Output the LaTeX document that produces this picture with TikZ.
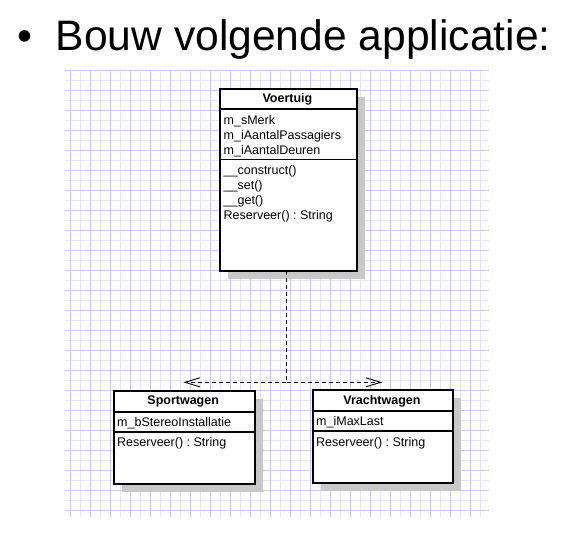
\documentclass[tikz,border=0pt]{standalone}
\usepackage{fontspec}
\setmainfont{Liberation Sans}
\usetikzlibrary{arrows.meta,shadows}
\definecolor{gridlight}{HTML}{E6E6FA}
\definecolor{griddark}{HTML}{C8C8FF}
\definecolor{shadowgray}{HTML}{C8C8C8}
\tikzset{
  classbox/.style={draw=black, line width=2pt, fill=white, anchor=north west, inner sep=0pt,
    drop shadow={shadow xshift=8pt, shadow yshift=-8pt, fill=shadowgray, opacity=1}},
  sep/.style={draw=black, line width=1.6pt},
  member/.style={anchor=base west, inner sep=0pt, font=\fontsize{12.5}{15}\selectfont},
  ctitle/.style={anchor=base, inner sep=0pt, font=\fontsize{12.5}{15}\selectfont\bfseries},
  realize/.style={draw=black, line width=0.9pt, dash pattern=on 4pt off 3pt,
    -{Straight Barb[length=15pt,width=9pt,line width=0.9pt]}},
}
\frenchspacing
\begin{document}
\begin{tikzpicture}[x=1pt,y=-1pt]
\useasboundingbox (0,0) rectangle (562,542);
% title
\node[anchor=base west, inner sep=0pt, font=\fontsize{42.6}{50}\selectfont] (bullet) at (17,50) {•};
\node[anchor=base west, inner sep=0pt, font=\fontsize{42.6}{50}\selectfont] (title) at (55.5,50) {Bouw volgende applicatie:};
% grid
\foreach \i in {0,...,41} {
  \pgfmathparse{int(mod(\i,2))}
  \ifnum\pgfmathresult=1
    \draw[gridlight, line width=1pt] ({70.7+10*\i},70) -- ({70.7+10*\i},516.7);
  \fi
}
\foreach \j in {0,...,44} {
  \pgfmathparse{int(mod(\j,2))}
  \ifnum\pgfmathresult=1
    \draw[gridlight, line width=1pt] (65,{70+10*\j}) -- (489,{70+10*\j});
  \fi
}
\foreach \i in {0,2,...,40} {
  \draw[griddark, line width=1pt] ({70.7+10*\i},70) -- ({70.7+10*\i},516.7);
}
\foreach \j in {0,2,...,44} {
  \draw[griddark, line width=1pt] (65,{70+10*\j}) -- (489,{70+10*\j});
}
% Voertuig
\node[classbox, minimum width=136.7pt, minimum height=182.3pt] (voertuig) at (219,87.7) {};
\draw[sep] (voertuig.west |- 0,108.7) -- (voertuig.east |- 0,108.7);
\draw[sep] (voertuig.west |- 0,159.3) -- (voertuig.east |- 0,159.3);
\node[ctitle] (vt) at (287.4,102.5) {Voertuig};
\node[member] (va1) at (223.5,124.5) {m\_sMerk};
\node[member] (va2) at (223.5,139) {m\_iAantalPassagiers};
\node[member] (va3) at (223.5,154) {m\_iAantalDeuren};
\node[member] (vm1) at (223.5,174.5) {\_\_construct()};
\node[member] (vm2) at (223.5,189.5) {\_\_set()};
\node[member] (vm3) at (223.5,204.5) {\_\_get()};
\node[member] (vm4) at (223.5,219.5) {Reserveer() : String};
% Sportwagen
\node[classbox, minimum width=141pt, minimum height=92.7pt] (sport) at (112.7,390.3) {};
\draw[sep] (sport.west |- 0,411.7) -- (sport.east |- 0,411.7);
\draw[sep] (sport.west |- 0,432) -- (sport.east |- 0,432);
\node[ctitle] (st) at (183.2,404.5) {Sportwagen};
\node[member] (sa1) at (117,426.5) {m\_bStereoInstallatie};
\node[member] (sm1) at (117,446) {Reserveer() : String};
% Vrachtwagen
\node[classbox, minimum width=140.6pt, minimum height=93pt] (vracht) at (311.7,389) {};
\draw[sep] (vracht.west |- 0,411) -- (vracht.east |- 0,411);
\draw[sep] (vracht.west |- 0,431) -- (vracht.east |- 0,431);
\node[ctitle] (rt) at (382,404) {Vrachtwagen};
\node[member] (ra1) at (316,425.5) {m\_iMaxLast};
\node[member] (rm1) at (316,446) {Reserveer() : String};
% realizations
\coordinate (down) at (286.3,271);
\coordinate (lefttip) at (183.3,382.3);
\coordinate (righttip) at (382.3,382.3);
\draw[realize] (down) |- (lefttip);
\draw[realize] (down) |- (righttip);
\end{tikzpicture}
\end{document}
